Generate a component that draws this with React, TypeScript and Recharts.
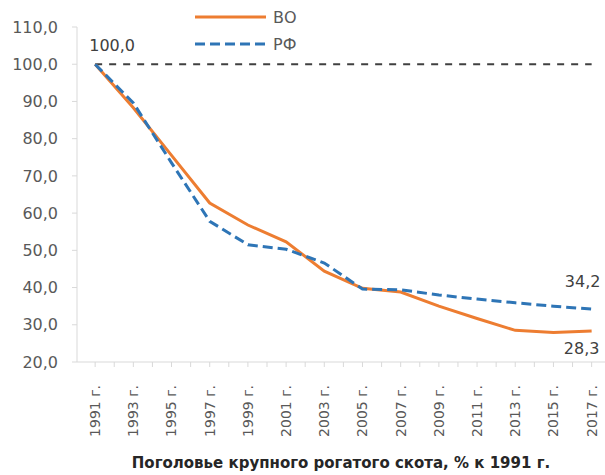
import { LineChart, Line, XAxis, YAxis, Legend, LabelList } from 'recharts';

const years = [1991, 1993, 1995, 1997, 1999, 2001, 2003, 2005, 2007, 2009, 2011, 2013, 2015, 2017];
const vo = [100.0, 88.3, 75.5, 62.7, 56.8, 52.3, 44.4, 39.8, 38.8, 35.0, 31.7, 28.5, 27.9, 28.3];
const rf = [100.0, 89.6, 73.5, 57.8, 51.5, 50.3, 46.6, 39.6, 39.4, 38.0, 36.9, 35.9, 35.0, 34.2];
const base = years.map(() => 100);

const yTicks = [20, 30, 40, 50, 60, 70, 80, 90, 100, 110];
const xTicks = Array.from({ length: 27 }, (_, i) => 1991 + i);

const data = years.map((y, i) => ({ year: y, vo: vo[i], rf: rf[i], base: base[i] }));

const ORANGE = '#ED7D31';
const BLUE = '#2E75B6';
const FONT = '"DejaVu Sans", sans-serif';

const fmt = (v: number) => v.toFixed(1).replace('.', ',');

function XTick(props: any) {
  const { x, y, payload } = props;
  const v = payload.value as number;
  if ((v - 1991) % 2 !== 0) return null;
  return (
    <text
      x={x}
      y={y + 16}
      transform={`rotate(-90, ${x}, ${y + 16})`}
      textAnchor="end"
      dy="0.35em"
      fontSize={14}
      fontFamily={FONT}
      fill="#595959"
    >
      {v} г.
    </text>
  );
}

function LegendBox() {
  return (
    <svg width={140} height={60}>
      <line x1={2} y1={17} x2={73} y2={17} stroke={ORANGE} strokeWidth={3} />
      <text x={80} y={17} dy="0.35em" fontSize={16} fontFamily={FONT} fill="#595959">ВО</text>
      <line x1={2} y1={44} x2={73} y2={44} stroke={BLUE} strokeWidth={3} strokeDasharray="10 5" />
      <text x={80} y={44} dy="0.35em" fontSize={16} fontFamily={FONT} fill="#595959">РФ</text>
    </svg>
  );
}

const makeLabel = (idx: number, dx: number, dy: number) => (props: any) => {
  const { x, y, value, index } = props;
  if (index !== idx) return null;
  return (
    <text x={x + dx} y={y + dy} textAnchor="middle" dy="0.35em" fontSize={16} fontFamily={FONT} fill="#404040">
      {fmt(value)}
    </text>
  );
};

export default function App() {
  return (
    <div style={{ position: 'absolute', left: 0, top: 0, width: 605, height: 475, background: '#fff' }}>
      <LineChart width={605} height={475} data={data} margin={{ top: 27, right: 0, left: 0, bottom: 0 }}>
        <XAxis
          dataKey="year"
          type="number"
          domain={[1990.05, 2017.7]}
          ticks={xTicks}
          interval={0}
          tick={<XTick />}
          tickSize={5}
          height={113}
          stroke="#d9d9d9"
          tickLine={{ stroke: '#d9d9d9' }}
          label={{
            value: 'Поголовье крупного рогатого скота, % к 1991 г.',
            position: 'insideBottom',
            offset: 7,
            fontSize: 15,
            fontWeight: 'bold',
            fontFamily: FONT,
            fill: '#262626',
          }}
        />
        <YAxis
          type="number"
          domain={[20, 110]}
          ticks={yTicks}
          interval={0}
          width={77}
          tickFormatter={fmt}
          tickSize={5}
          tickMargin={14}
          stroke="#d9d9d9"
          tick={{ fontSize: 16, fontFamily: FONT, fill: '#595959' }}
        />
        <Legend
          verticalAlign="middle"
          align="center"
          layout="horizontal"
          content={<LegendBox />}
          wrapperStyle={{ position: 'absolute', top: 0, left: 193, width: 140, height: 60 }}
        />
        <Line
          dataKey="base"
          stroke="#404040"
          strokeWidth={2}
          strokeDasharray="7 7"
          dot={false}
          legendType="none"
          isAnimationActive={false}
        />
        <Line dataKey="vo" name="ВО" stroke={ORANGE} strokeWidth={3} dot={false} isAnimationActive={false}>
          <LabelList dataKey="vo" content={makeLabel(13, -10, 17)} />
          <LabelList dataKey="vo" content={makeLabel(0, 17, -19)} />
        </Line>
        <Line
          dataKey="rf"
          name="РФ"
          stroke={BLUE}
          strokeWidth={3}
          strokeDasharray="10 5"
          dot={false}
          isAnimationActive={false}
        >
          <LabelList dataKey="rf" content={makeLabel(13, -9, -28)} />
        </Line>
      </LineChart>
    </div>
  );
}
